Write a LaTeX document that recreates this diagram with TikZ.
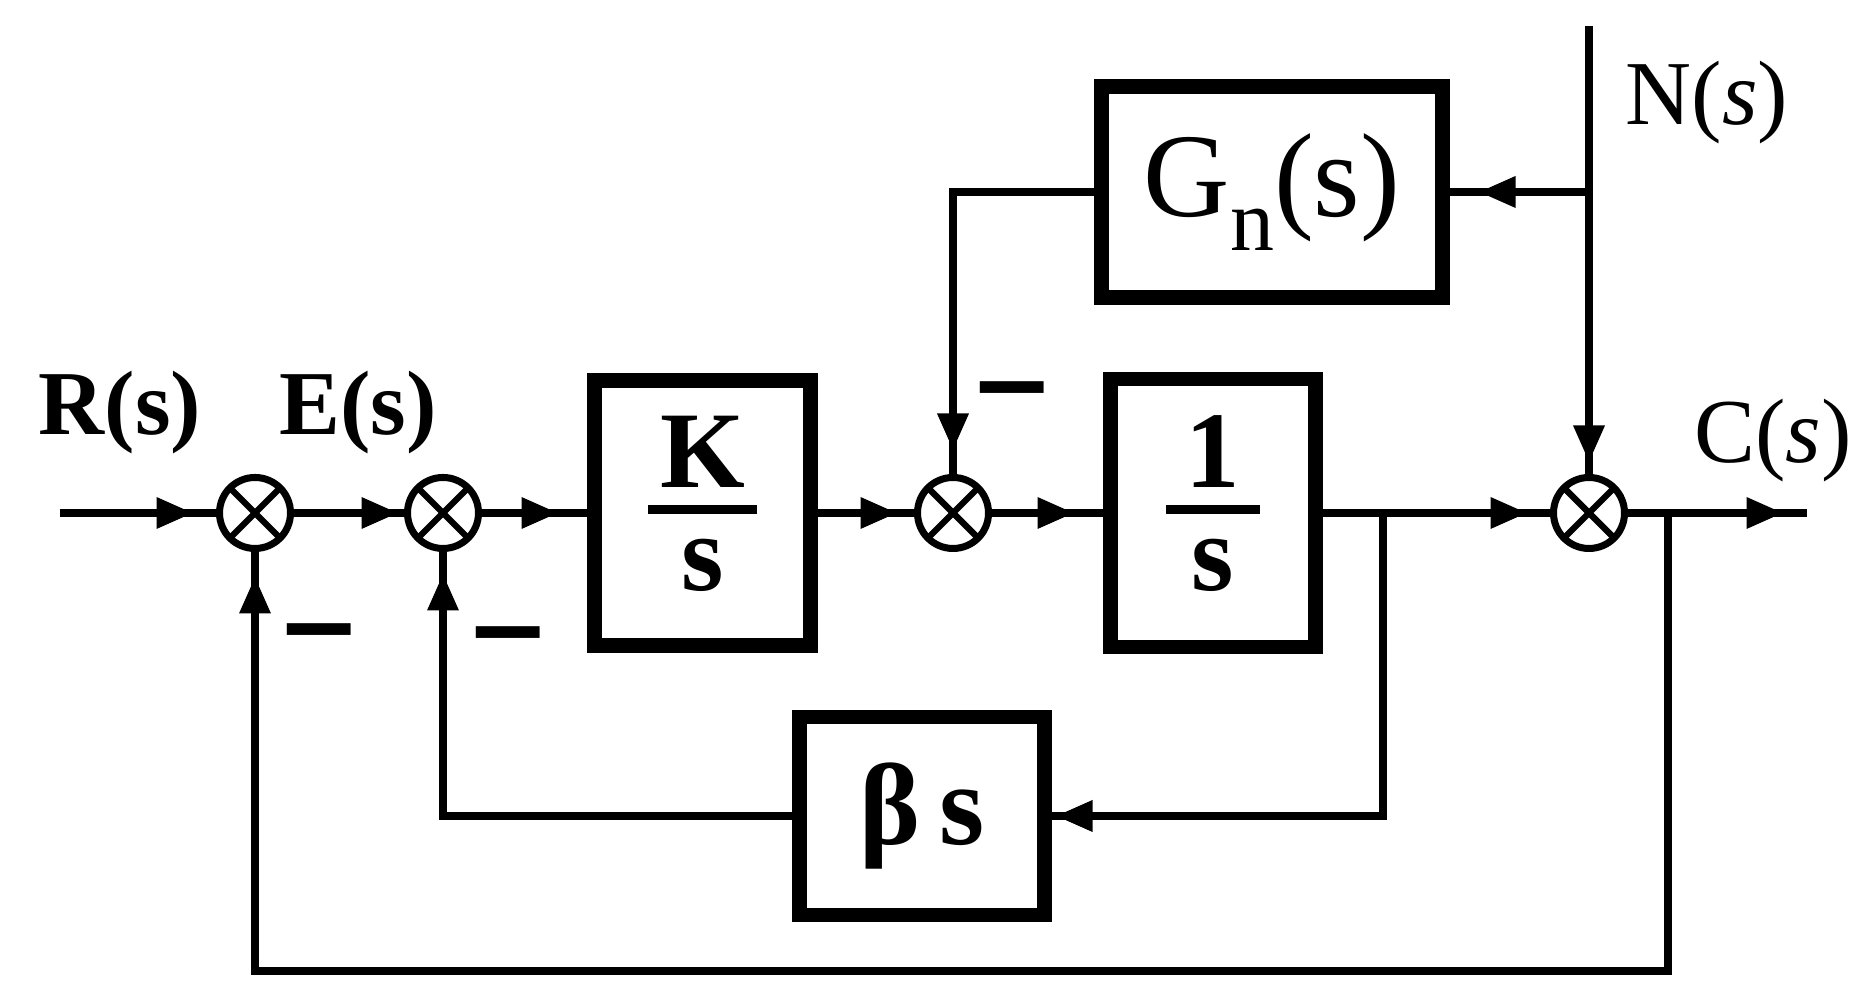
\documentclass[tikz,border=0pt]{standalone}
\usepackage{fontspec}
\setmainfont{Liberation Serif}
\newfontfamily\minusfont{DejaVu Sans}
\usetikzlibrary{
  arrows.meta,
  positioning,
  calc,
  decorations.markings
}
\setlength{\arrayrulewidth}{2.6pt}
\newcommand{\blockfrac}[3][2pt]{%
  \begin{tabular}{@{\hspace{#1}}c@{\hspace{#1}}}#2\\[-0.2em]\hline\noalign{\vskip-0.14em}#3\end{tabular}}
\tikzset{
  blk/.style={
    draw, line width=4pt, inner sep=2pt, outer sep=0pt, minimum width=2.2cm, minimum height=2.65cm,
    align=center, font=\fontsize{31}{37}\selectfont\bfseries
  },
  sumnode/.style={
    draw, circle, line width=2pt, minimum size=7.1mm, inner sep=0pt, outer sep=0pt,
    path picture={\draw[line width=1.8pt]
      (path picture bounding box.north west) -- (path picture bounding box.south east)
      (path picture bounding box.north east) -- (path picture bounding box.south west);}
  },
  sig/.style={
    line width=2.2pt, postaction={decorate},
    decoration={markings, mark=at position -#1 with {\fill (0,0) -- (-3.6mm,1.6mm) -- (-3.6mm,-1.6mm) -- cycle;}}
  },
  sig/.default=2mm,
  lbl/.style={font=\fontsize{26}{31}\selectfont\bfseries},
  sgl/.style={font=\fontsize{26}{31}\selectfont},
  neg/.style={font=\minusfont\bfseries\fontsize{29}{34}\selectfont, inner sep=0pt}
}
\begin{document}
\begin{tikzpicture}
  \useasboundingbox (0,0) rectangle (18.59,9.94);
  % forward path
  \node[sumnode] (s1) at (2.55,4.81) {};
  \node[sumnode, right=1.17cm of s1] (s2) {};
  \node[blk, minimum width=2.16cm, right=1.16cm of s2] (ks) {\blockfrac[0.12cm]{K}{s}};
  \node[sumnode, right=1.07cm of ks] (s3) {};
  \node[blk, minimum width=2.05cm, minimum height=2.68cm, right=1.22cm of s3] (inv) {\blockfrac[0.2cm]{1}{s}};
  \node[sumnode, right=2.38cm of inv] (s4) {};
  % noise path and rate feedback
  \node[blk, font=\fontsize{34}{40}\selectfont, minimum width=3.41cm, minimum height=2.11cm] (gn) at (12.72,8.02)
    {G\raisebox{-0.28em}{\fontsize{25}{30}\selectfont n}(s)};
  \node[blk, font=\fontsize{33}{40}\selectfont\bfseries, minimum width=2.45cm, minimum height=1.98cm] (bs) at (9.22,1.78) {β\,s};

  \coordinate[left=1.6cm of s1] (rin);
  \coordinate[right=1.82cm of s4] (cout);
  \coordinate[above=4.51cm of s4] (ntop);
  \coordinate (nb) at (ntop |- gn);
  \coordinate[right=0.675cm of inv] (tapb);
  \coordinate[right=0.435cm of s4] (tapc);
  \coordinate (bot) at (0,0.23);

  \draw[sig=2.7mm] (rin) -- (s1);
  \draw[sig=1mm] (s1) -- (s2);
  \draw[sig=3.7mm] (s2) -- (ks);
  \draw[sig=2.1mm] (ks) -- (s3);
  \draw[sig=3.7mm] (s3) -- (inv);
  \draw[sig=2.7mm] (inv) -- (s4);
  \draw[sig=2.4mm] (s4) -- (cout);
  \draw[sig=1.6mm] (ntop) -- (s4);
  \draw[sig=3.7mm] (nb) -- (gn);
  \draw[sig=2.8mm] (gn) -| (s3);
  \draw[sig=1.2mm] (tapb) |- (bs);
  \draw[sig=2.6mm] (bs) -| (s2);
  \draw[sig=2.9mm] (tapc) |- (s1 |- bot) -- (s1);

  % signal names and signs
  \node[lbl] (rlab) at ($(s1)+(-1.35,1.0)$) {R(s)};
  \node[lbl] (elab) at ($(s1)+(1.03,1.0)$) {E(s)};
  \node[sgl] (nlab) at ($(s4)+(1.18,4.1)$) {N(\textit{s})};
  \node[sgl] (clab) at ($(s4)+(1.84,0.72)$) {C(\textit{s})};
  \node[neg] (m1) at ($(s1)+(0.64,-1.3)$) {−};
  \node[neg] (m2) at ($(s2)+(0.65,-1.33)$) {−};
  \node[neg] (m3) at ($(s3)+(0.59,1.12)$) {−};
\end{tikzpicture}
\end{document}
